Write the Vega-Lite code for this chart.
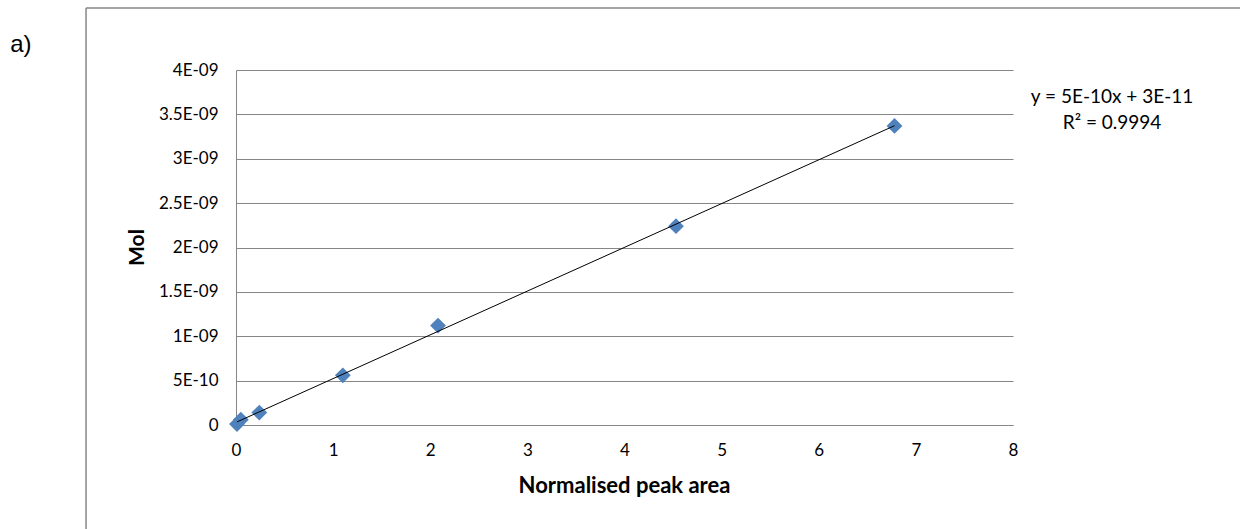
{
  "$schema": "https://vega.github.io/schema/vega-lite/v6.json",
  "autosize": "none",
  "width": 777,
  "height": 355,
  "padding": {"left": 236, "top": 70, "right": 227, "bottom": 104},
  "background": "white",
  "config": {
    "view": {"stroke": null},
    "font": "Lato",
    "axis": {"labelFont": "Lato", "titleFont": "Lato", "labelColor": "#000", "titleColor": "#000", "labelFlush": false}
  },
  "datasets": {
    "points": [
      {"area": 0.01, "mol": 1e-11},
      {"area": 0.05, "mol": 6e-11},
      {"area": 0.24, "mol": 1.4e-10},
      {"area": 1.10, "mol": 5.6e-10},
      {"area": 2.08, "mol": 1.12e-9},
      {"area": 4.53, "mol": 2.24e-9},
      {"area": 6.78, "mol": 3.37e-9}
    ],
    "single": [{}]
  },
  "layer": [
    {
      "data": {"name": "points"},
      "mark": {"type": "point", "shape": "diamond", "filled": true, "color": "#4F81BD", "size": 250, "opacity": 1},
      "encoding": {
        "x": {
          "field": "area", "type": "quantitative",
          "scale": {"domain": [0, 8], "nice": false, "zero": false},
          "axis": {
            "title": "Normalised peak area", "grid": false, "ticks": false, "labelFlush": false,
            "values": [0, 1, 2, 3, 4, 5, 6, 7, 8], "format": "d",
            "domainColor": "#868686", "domainWidth": 1,
            "labelFontSize": 17, "labelPadding": 17,
            "titleFontSize": 22, "titleFontWeight": "bold",
            "titleX": 388, "titleY": 60, "titleBaseline": "middle", "titleAlign": "center"
          }
        },
        "y": {
          "field": "mol", "type": "quantitative",
          "scale": {"domain": [0, 4e-9], "nice": false, "zero": false},
          "axis": {
            "title": "Mol", "grid": true, "gridColor": "#868686", "gridWidth": 1, "ticks": false, "labelFlush": false,
            "values": [0, 5e-10, 1e-9, 1.5e-9, 2e-9, 2.5e-9, 3e-9, 3.5e-9, 4e-9],
            "labelExpr": "datum.value == 0 ? '0' : replace(upper(format(datum.value, '.2~e')), regexp('E-(\\\\d)$'), 'E-0$1')",
            "domainColor": "#868686", "domainWidth": 1,
            "labelFontSize": 17, "labelPadding": 18,
            "titleFontSize": 21, "titleFontWeight": "bold",
            "titleX": -99, "titleY": 177, "titleAngle": 270, "titleBaseline": "middle", "titleAlign": "center"
          }
        }
      }
    },
    {
      "data": {"name": "points"},
      "transform": [{"regression": "mol", "on": "area", "method": "linear"}],
      "mark": {"type": "line", "color": "#000", "strokeWidth": 1},
      "encoding": {
        "x": {"field": "area", "type": "quantitative"},
        "y": {"field": "mol", "type": "quantitative"}
      }
    },
    {
      "data": {"name": "single"},
      "mark": {"type": "text", "text": ["y = 5E-10x + 3E-11", "R² = 0.9994"], "font": "Lato", "fontSize": 19, "fontWeight": "normal", "lineHeight": 26, "align": "center", "baseline": "middle", "fill": "#000"},
      "encoding": {
        "x": {"datum": 9.02, "type": "quantitative"},
        "y": {"datum": 3.70e-9, "type": "quantitative"}
      }
    },
    {
      "data": {"name": "single"},
      "mark": {"type": "text", "text": "a)", "font": "Liberation Sans", "fontSize": 24, "fontWeight": "normal", "align": "left", "baseline": "middle", "fill": "#000"},
      "encoding": {
        "x": {"datum": -2.325, "type": "quantitative"},
        "y": {"datum": 4.28e-9, "type": "quantitative"}
      }
    },
    {
      "data": {"name": "single"},
      "mark": {"type": "rule", "color": "#868686", "strokeWidth": 1.5},
      "encoding": {
        "x": {"datum": -1.544, "type": "quantitative"},
        "y": {"datum": 4.699e-9, "type": "quantitative"},
        "y2": {"datum": -1.3e-9}
      }
    },
    {
      "data": {"name": "single"},
      "mark": {"type": "rule", "color": "#868686", "strokeWidth": 1.5},
      "encoding": {
        "x": {"datum": -1.544, "type": "quantitative"},
        "x2": {"datum": 10.5},
        "y": {"datum": 4.699e-9, "type": "quantitative"}
      }
    }
  ]
}
